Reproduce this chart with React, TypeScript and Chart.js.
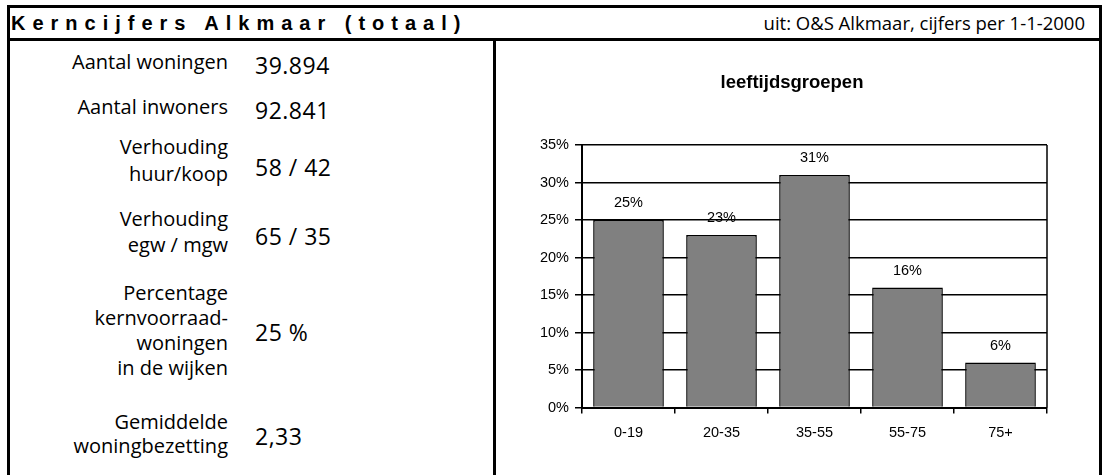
import React, { useEffect, useRef } from "react";
import { Chart, registerables } from "chart.js";

Chart.register(...registerables);

// ---------- data ----------
const ageGroups: string[] = ["0-19", "20-35", "35-55", "55-75", "75+"];
const agePercentages: number[] = [25, 23, 31, 16, 6];
const yAxisMax = 35;
const yAxisStep = 5;

const headerTitle = "Kerncijfers Alkmaar (totaal)";
const headerSource = "uit: O&S Alkmaar, cijfers per 1-1-2000";
const chartTitle = "leeftijdsgroepen";

const figureLabels: string[][] = [
  ["Aantal woningen"],
  ["Aantal inwoners"],
  ["Verhouding", "huur/koop"],
  ["Verhouding", "egw / mgw"],
  ["Percentage", "kernvoorraad-", "woningen", "in de wijken"],
  ["Gemiddelde", "woningbezetting"],
];
const figureValues: string[] = ["39.894", "92.841", "58 / 42", "65 / 35", "25 %", "2,33"];

// ---------- layout (positions only) ----------
const labelBaselines = [70, 115, 154, 227, 300, 430];
const labelLineHeights = [26, 26, 27, 25.5, 25, 23.5];
const valueBaselines = [74, 119, 176, 245, 341, 445];

const LABEL_FONT = 20;
const VALUE_FONT = 23;
const labelTopOffset = (lh: number) => (lh - 1.362 * LABEL_FONT) / 2 + 1.069 * LABEL_FONT;
const VALUE_LH = 30;
const valueTopOffset = (VALUE_LH - 1.362 * VALUE_FONT) / 2 + 1.069 * VALUE_FONT;

const CHART_FONT = "'Liberation Sans', Arial, sans-serif";
const TICK_SIZE = 14.5;

const chartDecorPlugin = {
  id: "chartDecor",
  afterDatasetsDraw(chart: any) {
    const ctx = chart.ctx;
    const meta = chart.getDatasetMeta(0);
    const area = chart.chartArea;
    ctx.save();
    // right edge of plot frame
    ctx.strokeStyle = "#000";
    ctx.lineWidth = 1.5;
    ctx.beginPath();
    ctx.moveTo(area.right, area.top);
    ctx.lineTo(area.right, area.bottom);
    ctx.stroke();
    // value labels
    ctx.font = `${TICK_SIZE}px ${CHART_FONT}`;
    ctx.fillStyle = "#000";
    ctx.textAlign = "center";
    ctx.textBaseline = "middle";
    meta.data.forEach((bar: any, i: number) => {
      ctx.fillText(`${agePercentages[i]}%`, bar.x, bar.y - 17);
    });
    // chart title
    ctx.font = `bold 18.5px ${CHART_FONT}`;
    ctx.fillText(chartTitle, chart.width / 2 - 6, 42);
    ctx.restore();
  },
};

function AgeChart() {
  const ref = useRef<HTMLCanvasElement | null>(null);
  useEffect(() => {
    if (!ref.current) return;
    const chart = new Chart(ref.current, {
      type: "bar",
      data: {
        labels: ageGroups,
        datasets: [
          {
            data: agePercentages,
            backgroundColor: "#808080",
            borderColor: "#000",
            borderWidth: 1.5,
            barPercentage: 0.76,
            categoryPercentage: 1,
          },
        ],
      },
      options: {
        animation: false,
        responsive: false,
        maintainAspectRatio: false,
        layout: { padding: { left: 0, right: 52, top: 104, bottom: 0 } },
        plugins: {
          legend: { display: false },
          tooltip: { enabled: false },
          title: { display: false },
        },
        scales: {
          x: {
            grid: {
              drawOnChartArea: false,
              drawTicks: true,
              tickLength: 6,
              color: "#000",
              lineWidth: 1.5,
            },
            border: { display: true, color: "#000", width: 2 },
            ticks: {
              color: "#000",
              font: { family: CHART_FONT, size: TICK_SIZE },
              padding: 11,
              maxRotation: 0,
            },
            afterFit: (s: any) => {
              s.height = 67.5;
            },
          },
          y: {
            min: 0,
            max: yAxisMax,
            grid: {
              color: "#000",
              lineWidth: 1.5,
              drawTicks: true,
              tickLength: 7,
            },
            border: { display: true, color: "#000", width: 2 },
            ticks: {
              stepSize: yAxisStep,
              color: "#000",
              font: { family: CHART_FONT, size: TICK_SIZE },
              padding: 6,
              callback: (v: any) => `${v}%`,
            },
            afterFit: (s: any) => {
              s.width = 85;
            },
          },
        },
      },
      plugins: [chartDecorPlugin],
    });
    return () => chart.destroy();
  }, []);
  return <canvas ref={ref} width={602} height={434} />;
}

export default function App() {
  const line = "#000";
  return (
    <div
      style={{
        position: "fixed",
        left: 0,
        top: 0,
        width: 1103,
        height: 475,
        overflow: "hidden",
        background: "#fff",
        color: "#000",
      }}
    >
      {/* frame */}
      <div style={{ position: "absolute", left: 7, top: 5, width: 1095, height: 3, background: line }} />
      <div style={{ position: "absolute", left: 7, top: 5, width: 3, height: 470, background: line }} />
      <div style={{ position: "absolute", left: 1099, top: 5, width: 3, height: 470, background: line }} />
      <div style={{ position: "absolute", left: 7, top: 38, width: 1095, height: 3, background: line }} />
      <div style={{ position: "absolute", left: 493, top: 41, width: 3, height: 434, background: line }} />

      {/* header */}
      <div
        style={{
          position: "absolute",
          left: 11,
          top: 8,
          height: 30,
          lineHeight: "30px",
          fontFamily: CHART_FONT,
          fontWeight: "bold",
          fontSize: 20,
          letterSpacing: 7,
          whiteSpace: "nowrap",
        }}
      >
        {headerTitle}
      </div>
      <div
        style={{
          position: "absolute",
          right: 1103 - 1085,
          top: 8,
          height: 30,
          lineHeight: "30px",
          fontFamily: "'Open Sans', sans-serif",
          fontSize: 18.5,
          whiteSpace: "nowrap",
        }}
      >
        {headerSource}
      </div>

      {/* key figures */}
      {figureLabels.map((lines, i) => (
        <div
          key={`l${i}`}
          style={{
            position: "absolute",
            left: 0,
            width: 228,
            top: labelBaselines[i] - labelTopOffset(labelLineHeights[i]),
            textAlign: "right",
            fontFamily: "'Open Sans', sans-serif",
            fontSize: LABEL_FONT,
            lineHeight: `${labelLineHeights[i]}px`,
            whiteSpace: "nowrap",
          }}
        >
          {lines.map((t, j) => (
            <div key={j}>{t}</div>
          ))}
        </div>
      ))}
      {figureValues.map((v, i) => (
        <div
          key={`v${i}`}
          style={{
            position: "absolute",
            left: 255,
            top: valueBaselines[i] - valueTopOffset,
            fontFamily: "'Open Sans', sans-serif",
            fontSize: VALUE_FONT,
            lineHeight: `${VALUE_LH}px`,
            letterSpacing: 0.5,
            whiteSpace: "nowrap",
          }}
        >
          {v}
        </div>
      ))}

      {/* chart */}
      <div style={{ position: "absolute", left: 497, top: 41, width: 602, height: 434 }}>
        <AgeChart />
      </div>
    </div>
  );
}
